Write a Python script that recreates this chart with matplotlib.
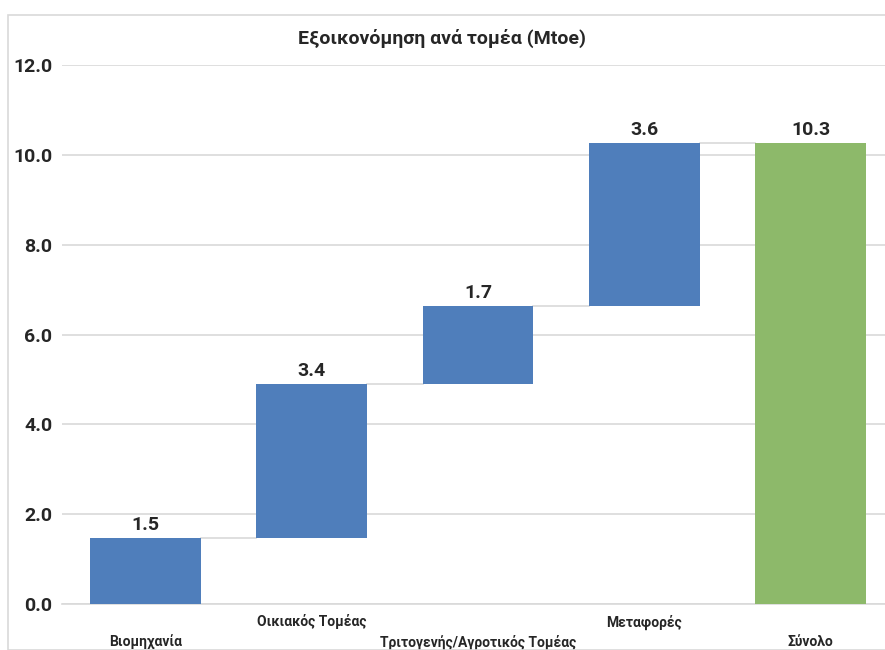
import matplotlib
matplotlib.use("Agg")
import matplotlib.pyplot as plt
from matplotlib.patches import Rectangle
import numpy as np

categories = ["Βιομηχανία", "Οικιακός Τομέας", "Τριτογενής/Αγροτικός Τομέας", "Μεταφορές", "Σύνολο"]
increments = [1.47, 3.43, 1.74, 3.63]
title = "Εξοικονόμηση ανά τομέα (Mtoe)"
yticks = [0.0, 2.0, 4.0, 6.0, 8.0, 10.0, 12.0]

blue = "#4F7EBB"
green = "#8DB96A"

plt.rcParams['font.family'] = ['Roboto', 'DejaVu Sans']

fig = plt.figure(figsize=(8.85, 6.5), dpi=100)
fig.patches.append(Rectangle((8/885, 0), 1, 1 - 15/650, transform=fig.transFigure,
                             fill=False, edgecolor="#D9D9D9", linewidth=1.2))
ax = fig.add_axes([62/885, 1 - 604/650, 1 - 62/885 + 0.01, (604 - 65)/650])

cum = np.cumsum(increments)
bottoms = list(np.concatenate([[0], cum[:-1]])) + [0]
heights = list(increments) + [cum[-1]]
values = list(increments) + [cum[-1]]
colors = [blue] * len(increments) + [green]
x = np.arange(len(categories))
w = 0.665

ax.bar(x, heights, bottom=bottoms, width=w, color=colors, zorder=3)

tops = list(cum) + [cum[-1]]
for i in range(len(categories) - 1):
    ax.plot([x[i] + w/2, x[i+1] - w/2], [tops[i], tops[i]], color="#D9D9D9", lw=1.2, zorder=2)

for i in range(len(categories)):
    top = bottoms[i] + heights[i]
    ax.text(x[i], top + 0.08, f"{values[i]:.1f}", ha="center", va="bottom",
            fontsize=14, fontweight="bold", color="#262626")

ax.set_ylim(0, 12)
ax.set_xlim(-0.5, 4.5)
ax.set_yticks(yticks)
ax.set_yticklabels([f"{v:.1f}" for v in yticks], fontsize=14, fontweight="bold", color="#262626")
ax.yaxis.grid(True, color="#D9D9D9", lw=1.2, zorder=0)
ax.set_axisbelow(True)
for s in ["top", "right", "left"]:
    ax.spines[s].set_visible(False)
ax.spines["bottom"].set_color("#D9D9D9")
ax.spines["bottom"].set_linewidth(1.2)
ax.tick_params(axis="y", length=0, pad=7)
ax.tick_params(axis="x", length=0)
ax.set_xticks(x)
ax.set_xticklabels([])
for i, c in enumerate(categories):
    yoff = -0.40 if i % 2 == 1 else -0.85
    ax.text(x[i], yoff, c, ha="center", va="center", fontsize=10, fontweight="bold",
            color="#262626", clip_on=False)

fig.text(442/885, 1 - 38/650, title, ha="center", va="center",
         fontsize=14, fontweight="bold", color="#262626")

fig.savefig("out.png", dpi=100)
